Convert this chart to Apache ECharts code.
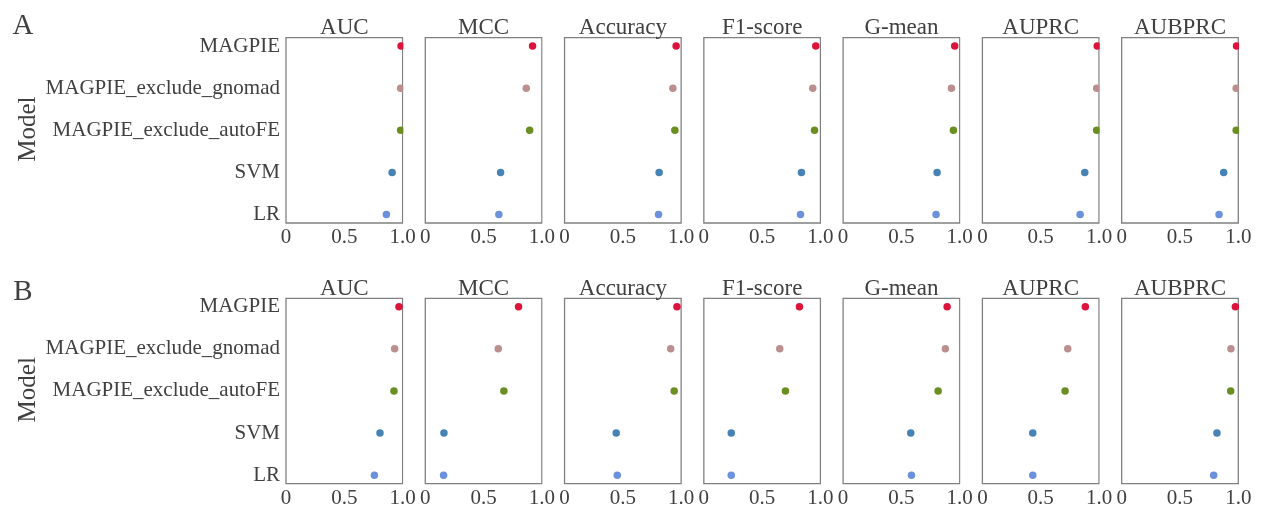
<!DOCTYPE html>
<html>
<head>
<meta charset="utf-8">
<style>
	html, body { margin: 0; padding: 0; background: #fff; }
	#chart { width: 1265px; height: 510px; }
</style>
<script src="https://cdn.jsdelivr.net/npm/echarts@6/dist/echarts.min.js"></script>
</head>
<body>
<div id="chart"></div>
<script>
// 模型名 (y轴, 从上到下)
var models = ['MAGPIE', 'MAGPIE_exclude_gnomad', 'MAGPIE_exclude_autoFE', 'SVM', 'LR'];
// 指标名 (每一列一个小图)
var metrics = ['AUC', 'MCC', 'Accuracy', 'F1-score', 'G-mean', 'AUPRC', 'AUBPRC'];
var rowNames = ['A', 'B'];
var xTicks = [0, 0.5, 1];

// A 行数据, 顺序同 models
var aucA = [0.987, 0.983, 0.983, 0.91, 0.861];
var mccA = [0.92, 0.866, 0.895, 0.646, 0.631];
var accA = [0.957, 0.929, 0.946, 0.811, 0.806];
var f1A = [0.96, 0.934, 0.949, 0.837, 0.829];
var gmeanA = [0.957, 0.929, 0.946, 0.806, 0.797];
var auprcA = [0.985, 0.98, 0.98, 0.878, 0.838];
var aubprcA = [0.985, 0.982, 0.982, 0.875, 0.835];

// B 行数据
var aucB = [0.969, 0.932, 0.926, 0.806, 0.758];
var mccB = [0.8, 0.626, 0.674, 0.16, 0.157];
var accB = [0.964, 0.91, 0.94, 0.443, 0.452];
var f1B = [0.82, 0.651, 0.7, 0.235, 0.235];
var gmeanB = [0.892, 0.877, 0.815, 0.58, 0.586];
var auprcB = [0.883, 0.732, 0.709, 0.432, 0.432];
var aubprcB = [0.975, 0.937, 0.935, 0.817, 0.789];

var rowsData = [
	[aucA, mccA, accA, f1A, gmeanA, auprcA, aubprcA],
	[aucB, mccB, accB, f1B, gmeanB, auprcB, aubprcB]
];

// 点的颜色, 每个模型一个
var dotColors = ['#dc143c', '#bc8f8f', '#6b8e23', '#4682b4', '#6b91dc'];

var font = "'Liberation Serif', 'DejaVu Serif', serif";
var textColor = '#404040';
var panelLeft = 286, panelStep = 139.28, panelW = 116.6, panelH = 185.3;
var rowTop = [37.7, 298.3];
var titleY = [27.7, 288.8]; //小图标题位置
var letterY = [26, 292.7]; //A/B 位置

var grids = [], xAxes = [], yAxes = [], series = [], graphics = [];

for (var r = 0; r < rowsData.length; r++) {
	for (var m = 0; m < metrics.length; m++) {
		var idx = grids.length;
		var left = panelLeft + m * panelStep;
		grids.push({
			left: left,
			top: rowTop[r],
			width: panelW,
			height: panelH,
			show: true,
			borderColor: '#808080',
			borderWidth: 1.3,
			backgroundColor: 'transparent'
		});
		xAxes.push({
			gridIndex: idx,
			type: 'value',
			min: 0,
			max: 1,
			interval: 0.5,
			axisLine: { show: false },
			axisTick: { show: false },
			splitLine: { show: false },
			axisLabel: {
				margin: 4,
				color: textColor,
				fontFamily: font,
				fontSize: 21,
				customValues: xTicks,
				formatter: function (v) {
					return v === 1 ? '1.0' : String(v);
				}
			}
		});
		yAxes.push({
			gridIndex: idx,
			type: 'value',
			min: -0.2,
			max: 4.2,
			inverse: true,
			axisLine: { show: false },
			axisTick: { show: false },
			splitLine: { show: false },
			axisLabel: {
				show: m === 0, //只有第一个小图显示模型名
				margin: 6,
				color: textColor,
				fontFamily: font,
				fontSize: 21,
				customValues: [0, 1, 2, 3, 4],
				formatter: function (v) {
					return models[Math.round(v)] || '';
				}
			}
		});
		var vals = rowsData[r][m];
		series.push({
			type: 'scatter',
			xAxisIndex: idx,
			yAxisIndex: idx,
			symbolSize: 7.5,
			clip: true,
			silent: true,
			data: vals.map(function (v, i) {
				return { value: [v, i], itemStyle: { color: dotColors[i], opacity: 1 } };
			})
		});
		// 把超出右边框的半个点遮掉 (原图点在边框处被裁切)
		graphics.push({
			type: 'rect',
			z: 10,
			silent: true,
			shape: { x: left + panelW + 0.8, y: rowTop[r] - 2, width: 6, height: panelH + 4 },
			style: { fill: '#fff' }
		});
		// 小图标题
		graphics.push({
			type: 'text',
			x: left + panelW / 2,
			y: titleY[r],
			style: {
				text: metrics[m],
				fill: textColor,
				font: '23px ' + font,
				textAlign: 'center',
				textVerticalAlign: 'middle'
			}
		});
	}
	// 纵坐标标题
	graphics.push({
		type: 'text',
		x: 28,
		y: rowTop[r] + 91.5,
		rotation: Math.PI / 2,
		style: {
			text: 'Model',
			fill: textColor,
			font: '25px ' + font,
			textAlign: 'center',
			textVerticalAlign: 'middle'
		}
	});
	// 行标记 A / B
	graphics.push({
		type: 'text',
		x: 23,
		y: letterY[r],
		style: {
			text: rowNames[r],
			fill: textColor,
			font: '29px ' + font,
			textAlign: 'center',
			textVerticalAlign: 'middle'
		}
	});
}

var myChart = echarts.init(document.getElementById('chart'), null, { renderer: 'canvas' });
myChart.setOption({
	animation: false,
	backgroundColor: '#fff',
	grid: grids,
	xAxis: xAxes,
	yAxis: yAxes,
	series: series,
	graphic: graphics
});
</script>
</body>
</html>
